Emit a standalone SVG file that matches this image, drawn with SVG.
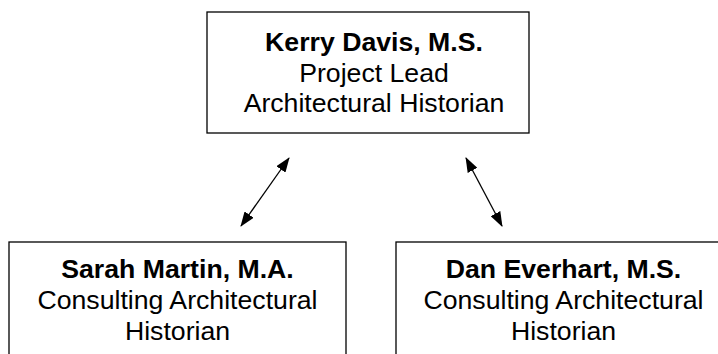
<svg xmlns="http://www.w3.org/2000/svg" width="718" height="354" viewBox="0 0 718 354">
  <defs>
    <style>
      .box { fill: #ffffff; stroke: #000000; stroke-width: 1.3; }
      .t { font-family: "Liberation Sans", Arial, sans-serif; font-size: 26.67px; fill: #000000; text-anchor: middle; }
      .b { font-weight: bold; }
      .conn { stroke: #000000; stroke-width: 1.3; fill: none; marker-start: url(#ah); marker-end: url(#ah); }
    </style>
    <marker id="ah" viewBox="0 0 15 11" refX="14" refY="5.5" markerWidth="15" markerHeight="11" markerUnits="userSpaceOnUse" orient="auto-start-reverse">
      <path d="M0,0 L15,5.5 L0,11 z" fill="#000000"/>
    </marker>
  </defs>
  <rect width="718" height="354" fill="#ffffff"/>
  <g id="kerry-davis">
    <rect class="box" x="207" y="12" width="322" height="121"/>
    <text class="t b" x="374" y="51">Kerry Davis, M.S.</text>
    <text class="t" x="374" y="82">Project Lead</text>
    <text class="t" x="374" y="112">Architectural Historian</text>
  </g>
  <g id="sarah-martin">
    <rect class="box" x="9" y="242" width="337" height="130"/>
    <text class="t b" x="177.5" y="278">Sarah Martin, M.A.</text>
    <text class="t" x="177.5" y="309">Consulting Architectural</text>
    <text class="t" x="177.5" y="340">Historian</text>
  </g>
  <g id="dan-everhart">
    <rect class="box" x="396" y="242" width="335" height="130"/>
    <text class="t b" x="563.5" y="278">Dan Everhart, M.S.</text>
    <text class="t" x="563.5" y="309">Consulting Architectural</text>
    <text class="t" x="563.5" y="340">Historian</text>
  </g>
  <g id="connectors">
    <line class="conn" x1="289" y1="158" x2="241" y2="226"/>
    <line class="conn" x1="466" y1="158" x2="502" y2="226"/>
  </g>
</svg>
